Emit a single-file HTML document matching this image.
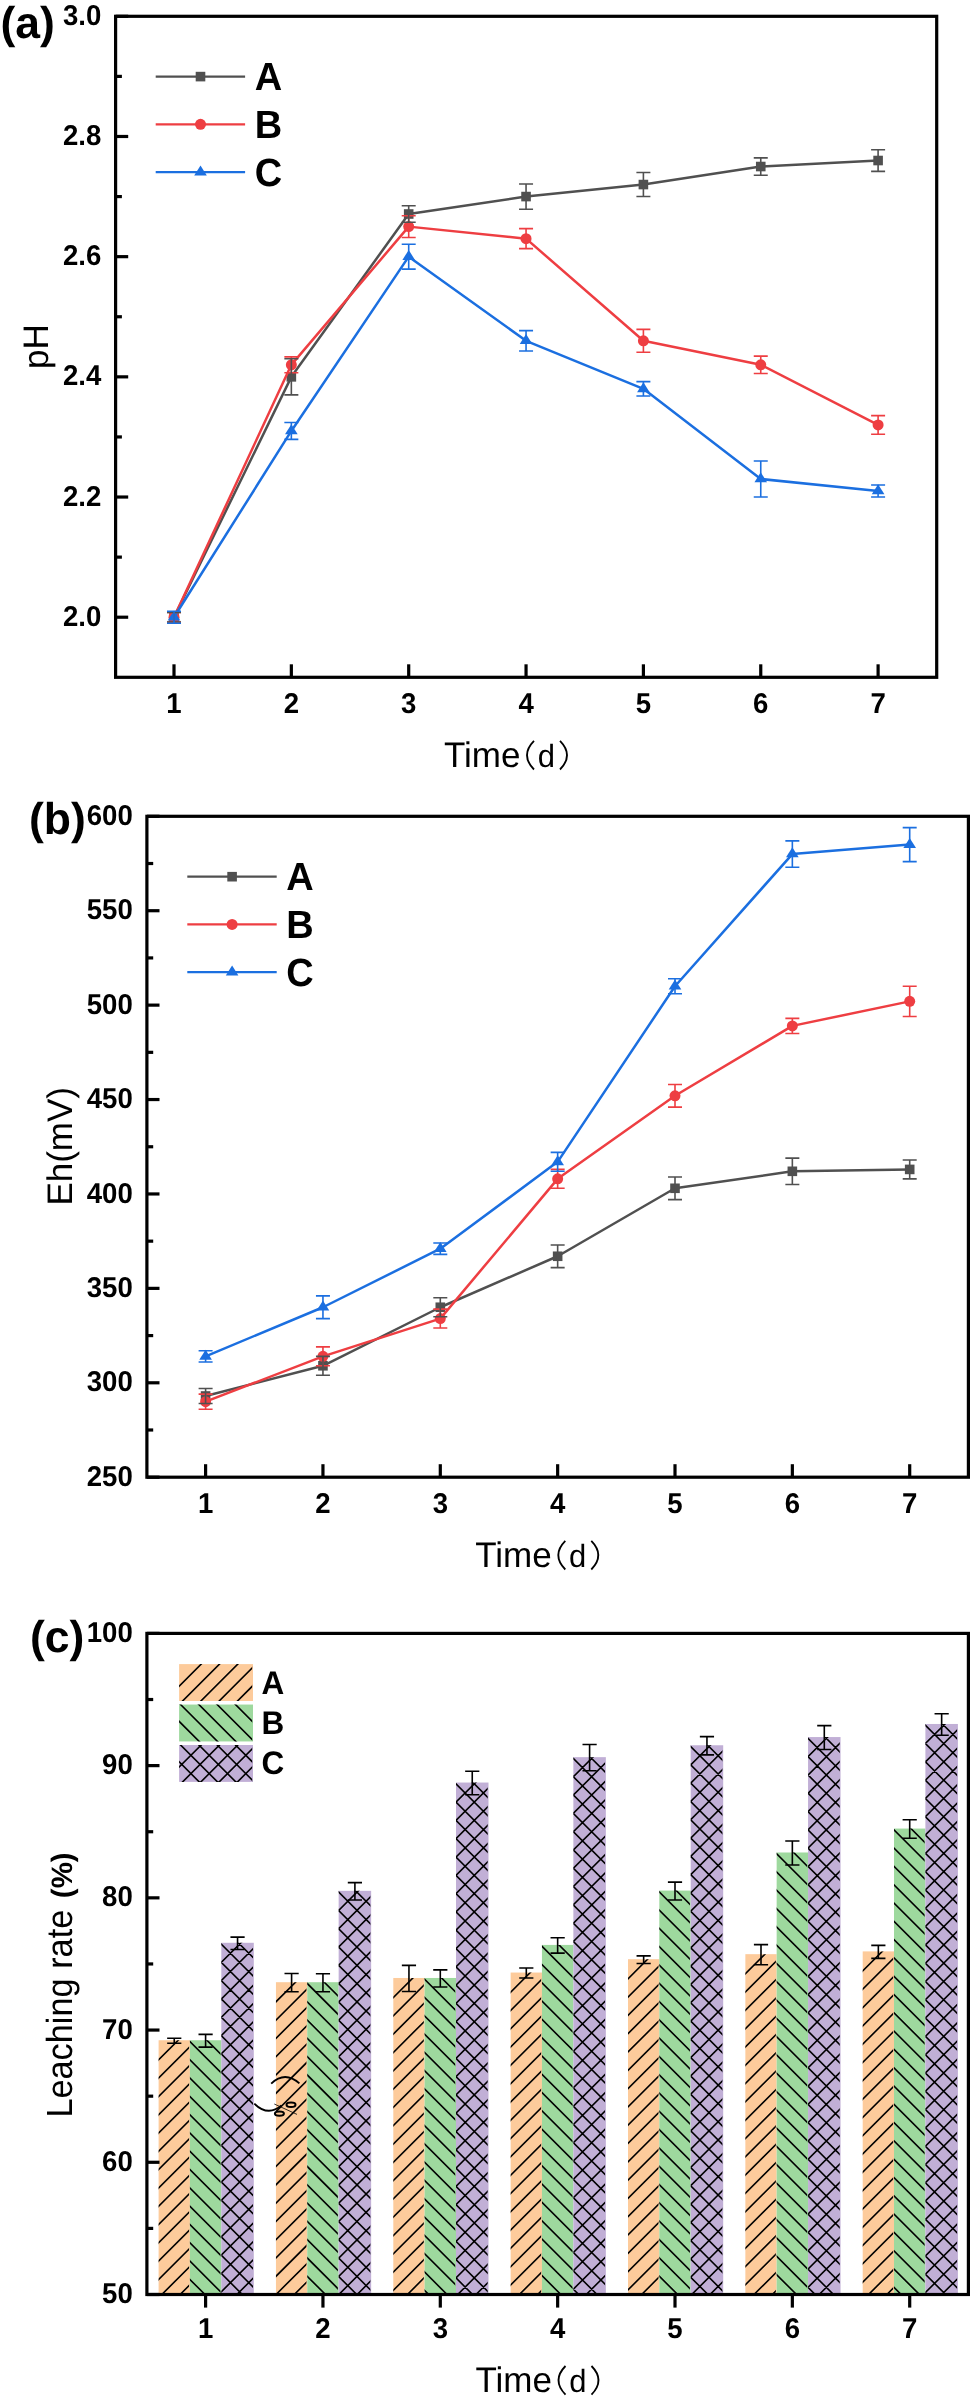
<!DOCTYPE html>
<html><head><meta charset="utf-8"><title>Figure</title>
<style>
html,body{margin:0;padding:0;background:#fff;}
svg{display:block;font-family:"Liberation Sans",sans-serif;will-change:transform;text-rendering:geometricPrecision;}
text{fill:#000;}
</style></head>
<body>
<svg width="971" height="2404" viewBox="0 0 971 2404">
<rect width="971" height="2404" fill="#fff"/>
<polyline points="174,617.21 291.35,376.85 408.7,214 526.05,196.57 643.4,184.55 760.75,166.53 878.1,160.52" fill="none" stroke="#505050" stroke-width="2.5" stroke-linejoin="round"/>
<rect x="169.2" y="612.41" width="9.6" height="9.6" fill="#505050"/>
<rect x="286.55" y="372.05" width="9.6" height="9.6" fill="#505050"/>
<rect x="403.9" y="209.2" width="9.6" height="9.6" fill="#505050"/>
<rect x="521.25" y="191.77" width="9.6" height="9.6" fill="#505050"/>
<rect x="638.6" y="179.75" width="9.6" height="9.6" fill="#505050"/>
<rect x="755.95" y="161.73" width="9.6" height="9.6" fill="#505050"/>
<rect x="873.3" y="155.72" width="9.6" height="9.6" fill="#505050"/>
<polyline points="174,617.21 291.35,364.83 408.7,226.62 526.05,238.64 643.4,340.79 760.75,364.83 878.1,424.92" fill="none" stroke="#EE3E42" stroke-width="2.5" stroke-linejoin="round"/>
<circle cx="174" cy="617.21" r="5.5" fill="#EE3E42"/>
<circle cx="291.35" cy="364.83" r="5.5" fill="#EE3E42"/>
<circle cx="408.7" cy="226.62" r="5.5" fill="#EE3E42"/>
<circle cx="526.05" cy="238.64" r="5.5" fill="#EE3E42"/>
<circle cx="643.4" cy="340.79" r="5.5" fill="#EE3E42"/>
<circle cx="760.75" cy="364.83" r="5.5" fill="#EE3E42"/>
<circle cx="878.1" cy="424.92" r="5.5" fill="#EE3E42"/>
<polyline points="174,617.21 291.35,430.93 408.7,256.66 526.05,340.79 643.4,388.86 760.75,479 878.1,491.02" fill="none" stroke="#1B6FE0" stroke-width="2.5" stroke-linejoin="round"/>
<path d="M174 610.51L180.3 620.51L167.7 620.51Z" fill="#1B6FE0"/>
<path d="M291.35 424.23L297.65 434.23L285.05 434.23Z" fill="#1B6FE0"/>
<path d="M408.7 249.96L415 259.96L402.4 259.96Z" fill="#1B6FE0"/>
<path d="M526.05 334.09L532.35 344.09L519.75 344.09Z" fill="#1B6FE0"/>
<path d="M643.4 382.16L649.7 392.16L637.1 392.16Z" fill="#1B6FE0"/>
<path d="M760.75 472.3L767.05 482.3L754.45 482.3Z" fill="#1B6FE0"/>
<path d="M878.1 484.32L884.4 494.32L871.8 494.32Z" fill="#1B6FE0"/>
<path d="M174 612.4V622.02M167 612.4H181M167 622.02H181" stroke="#EE3E42" stroke-width="1.6" fill="none"/>
<path d="M291.35 356.84V372.82M284.35 356.84H298.35M284.35 372.82H298.35" stroke="#EE3E42" stroke-width="1.6" fill="none"/>
<path d="M408.7 215.8V237.43M401.7 215.8H415.7M401.7 237.43H415.7" stroke="#EE3E42" stroke-width="1.6" fill="none"/>
<path d="M526.05 228.66V248.61M519.05 228.66H533.05M519.05 248.61H533.05" stroke="#EE3E42" stroke-width="1.6" fill="none"/>
<path d="M643.4 329.37V352.21M636.4 329.37H650.4M636.4 352.21H650.4" stroke="#EE3E42" stroke-width="1.6" fill="none"/>
<path d="M760.75 356.11V373.54M753.75 356.11H767.75M753.75 373.54H767.75" stroke="#EE3E42" stroke-width="1.6" fill="none"/>
<path d="M878.1 415.6V434.23M871.1 415.6H885.1M871.1 434.23H885.1" stroke="#EE3E42" stroke-width="1.6" fill="none"/>
<path d="M174 612.4V622.02M167 612.4H181M167 622.02H181" stroke="#505050" stroke-width="1.6" fill="none"/>
<path d="M291.35 358.82V394.87M284.35 358.82H298.35M284.35 394.87H298.35" stroke="#505050" stroke-width="1.6" fill="none"/>
<path d="M408.7 205.77V222.23M401.7 205.77H415.7M401.7 222.23H415.7" stroke="#505050" stroke-width="1.6" fill="none"/>
<path d="M526.05 183.95V209.19M519.05 183.95H533.05M519.05 209.19H533.05" stroke="#505050" stroke-width="1.6" fill="none"/>
<path d="M643.4 172.54V196.57M636.4 172.54H650.4M636.4 196.57H650.4" stroke="#505050" stroke-width="1.6" fill="none"/>
<path d="M760.75 157.87V175.18M753.75 157.87H767.75M753.75 175.18H767.75" stroke="#505050" stroke-width="1.6" fill="none"/>
<path d="M878.1 149.7V171.33M871.1 149.7H885.1M871.1 171.33H885.1" stroke="#505050" stroke-width="1.6" fill="none"/>
<path d="M174 611.2V623.22M167 611.2H181M167 623.22H181" stroke="#1B6FE0" stroke-width="1.6" fill="none"/>
<path d="M291.35 422.51V439.34M284.35 422.51H298.35M284.35 439.34H298.35" stroke="#1B6FE0" stroke-width="1.6" fill="none"/>
<path d="M408.7 244.22V269.1M401.7 244.22H415.7M401.7 269.1H415.7" stroke="#1B6FE0" stroke-width="1.6" fill="none"/>
<path d="M526.05 330.58V351.01M519.05 330.58H533.05M519.05 351.01H533.05" stroke="#1B6FE0" stroke-width="1.6" fill="none"/>
<path d="M643.4 381.65V396.07M636.4 381.65H650.4M636.4 396.07H650.4" stroke="#1B6FE0" stroke-width="1.6" fill="none"/>
<path d="M760.75 460.97V497.03M753.75 460.97H767.75M753.75 497.03H767.75" stroke="#1B6FE0" stroke-width="1.6" fill="none"/>
<path d="M878.1 485.01V497.03M871.1 485.01H885.1M871.1 497.03H885.1" stroke="#1B6FE0" stroke-width="1.6" fill="none"/>
<rect x="115.6" y="16.3" width="821.1" height="661" fill="none" stroke="#000" stroke-width="3.2"/>
<line x1="115.6" y1="617.21" x2="128.2" y2="617.21" stroke="#000" stroke-width="3.2" />
<text transform="translate(101.3 625.81) scale(1 1.037)" font-size="27.6" font-weight="bold" text-anchor="end" >2.0</text>
<line x1="115.6" y1="497.03" x2="128.2" y2="497.03" stroke="#000" stroke-width="3.2" />
<text transform="translate(101.3 505.63) scale(1 1.037)" font-size="27.6" font-weight="bold" text-anchor="end" >2.2</text>
<line x1="115.6" y1="376.85" x2="128.2" y2="376.85" stroke="#000" stroke-width="3.2" />
<text transform="translate(101.3 385.45) scale(1 1.037)" font-size="27.6" font-weight="bold" text-anchor="end" >2.4</text>
<line x1="115.6" y1="256.66" x2="128.2" y2="256.66" stroke="#000" stroke-width="3.2" />
<text transform="translate(101.3 265.26) scale(1 1.037)" font-size="27.6" font-weight="bold" text-anchor="end" >2.6</text>
<line x1="115.6" y1="136.48" x2="128.2" y2="136.48" stroke="#000" stroke-width="3.2" />
<text transform="translate(101.3 145.08) scale(1 1.037)" font-size="27.6" font-weight="bold" text-anchor="end" >2.8</text>
<line x1="115.6" y1="16.3" x2="128.2" y2="16.3" stroke="#000" stroke-width="3.2" />
<text transform="translate(101.3 24.9) scale(1 1.037)" font-size="27.6" font-weight="bold" text-anchor="end" >3.0</text>
<line x1="115.6" y1="557.12" x2="121.9" y2="557.12" stroke="#000" stroke-width="3.2" />
<line x1="115.6" y1="436.94" x2="121.9" y2="436.94" stroke="#000" stroke-width="3.2" />
<line x1="115.6" y1="316.75" x2="121.9" y2="316.75" stroke="#000" stroke-width="3.2" />
<line x1="115.6" y1="196.57" x2="121.9" y2="196.57" stroke="#000" stroke-width="3.2" />
<line x1="115.6" y1="76.39" x2="121.9" y2="76.39" stroke="#000" stroke-width="3.2" />
<line x1="174" y1="677.3" x2="174" y2="664.3" stroke="#000" stroke-width="3.2" />
<text transform="translate(174 712.7) scale(1 1.037)" font-size="27.6" font-weight="bold" text-anchor="middle" >1</text>
<line x1="291.35" y1="677.3" x2="291.35" y2="664.3" stroke="#000" stroke-width="3.2" />
<text transform="translate(291.35 712.7) scale(1 1.037)" font-size="27.6" font-weight="bold" text-anchor="middle" >2</text>
<line x1="408.7" y1="677.3" x2="408.7" y2="664.3" stroke="#000" stroke-width="3.2" />
<text transform="translate(408.7 712.7) scale(1 1.037)" font-size="27.6" font-weight="bold" text-anchor="middle" >3</text>
<line x1="526.05" y1="677.3" x2="526.05" y2="664.3" stroke="#000" stroke-width="3.2" />
<text transform="translate(526.05 712.7) scale(1 1.037)" font-size="27.6" font-weight="bold" text-anchor="middle" >4</text>
<line x1="643.4" y1="677.3" x2="643.4" y2="664.3" stroke="#000" stroke-width="3.2" />
<text transform="translate(643.4 712.7) scale(1 1.037)" font-size="27.6" font-weight="bold" text-anchor="middle" >5</text>
<line x1="760.75" y1="677.3" x2="760.75" y2="664.3" stroke="#000" stroke-width="3.2" />
<text transform="translate(760.75 712.7) scale(1 1.037)" font-size="27.6" font-weight="bold" text-anchor="middle" >6</text>
<line x1="878.1" y1="677.3" x2="878.1" y2="664.3" stroke="#000" stroke-width="3.2" />
<text transform="translate(878.1 712.7) scale(1 1.037)" font-size="27.6" font-weight="bold" text-anchor="middle" >7</text>
<text transform="translate(443.9 767.2) scale(1 1.015)" font-size="35" font-weight="normal" text-anchor="start" >Time</text>
<path d="M534 740.9Q520 755.2 534 769.5" stroke="#000" stroke-width="1.8" fill="none"/>
<path d="M560 740.9Q574 755.2 560 769.5" stroke="#000" stroke-width="1.8" fill="none"/>
<text transform="translate(537.8 767) scale(1 1.037)" font-size="31" font-weight="normal" text-anchor="start" >d</text>
<text transform="translate(47.9 346.5) rotate(-90) scale(1 1.015)" font-size="35" text-anchor="middle">pH</text>
<text transform="translate(0.5 38.2) scale(1 1.0)" font-size="44.5" font-weight="bold" text-anchor="start" >(a)</text>
<line x1="155.7" y1="76.6" x2="245.1" y2="76.6" stroke="#505050" stroke-width="2.3" />
<rect x="195.7" y="71.8" width="9.6" height="9.6" fill="#505050"/>
<text transform="translate(254.7 90.2) scale(1 1.037)" font-size="38" font-weight="bold" text-anchor="start" >A</text>
<line x1="155.7" y1="124.35" x2="245.1" y2="124.35" stroke="#EE3E42" stroke-width="2.3" />
<circle cx="200.5" cy="124.35" r="5.5" fill="#EE3E42"/>
<text transform="translate(254.7 137.95) scale(1 1.037)" font-size="38" font-weight="bold" text-anchor="start" >B</text>
<line x1="155.7" y1="172.1" x2="245.1" y2="172.1" stroke="#1B6FE0" stroke-width="2.3" />
<path d="M200.5 165.4L206.8 175.4L194.2 175.4Z" fill="#1B6FE0"/>
<text transform="translate(254.7 185.7) scale(1 1.037)" font-size="38" font-weight="bold" text-anchor="start" >C</text>
<polyline points="205.6,1396 322.95,1365.79 440.3,1307.25 557.65,1256.27 675,1188.29 792.35,1171.3 909.7,1169.41" fill="none" stroke="#505050" stroke-width="2.5" stroke-linejoin="round"/>
<rect x="200.8" y="1391.2" width="9.6" height="9.6" fill="#505050"/>
<rect x="318.15" y="1360.99" width="9.6" height="9.6" fill="#505050"/>
<rect x="435.5" y="1302.45" width="9.6" height="9.6" fill="#505050"/>
<rect x="552.85" y="1251.47" width="9.6" height="9.6" fill="#505050"/>
<rect x="670.2" y="1183.49" width="9.6" height="9.6" fill="#505050"/>
<rect x="787.55" y="1166.5" width="9.6" height="9.6" fill="#505050"/>
<rect x="904.9" y="1164.61" width="9.6" height="9.6" fill="#505050"/>
<polyline points="205.6,1401.67 322.95,1356.35 440.3,1318.58 557.65,1178.85 675,1095.77 792.35,1025.9 909.7,1001.35" fill="none" stroke="#EE3E42" stroke-width="2.5" stroke-linejoin="round"/>
<circle cx="205.6" cy="1401.67" r="5.5" fill="#EE3E42"/>
<circle cx="322.95" cy="1356.35" r="5.5" fill="#EE3E42"/>
<circle cx="440.3" cy="1318.58" r="5.5" fill="#EE3E42"/>
<circle cx="557.65" cy="1178.85" r="5.5" fill="#EE3E42"/>
<circle cx="675" cy="1095.77" r="5.5" fill="#EE3E42"/>
<circle cx="792.35" cy="1025.9" r="5.5" fill="#EE3E42"/>
<circle cx="909.7" cy="1001.35" r="5.5" fill="#EE3E42"/>
<polyline points="205.6,1356.35 322.95,1307.25 440.3,1248.72 557.65,1161.86 675,986.25 792.35,854.07 909.7,844.62" fill="none" stroke="#1B6FE0" stroke-width="2.5" stroke-linejoin="round"/>
<path d="M205.6 1349.65L211.9 1359.65L199.3 1359.65Z" fill="#1B6FE0"/>
<path d="M322.95 1300.55L329.25 1310.55L316.65 1310.55Z" fill="#1B6FE0"/>
<path d="M440.3 1242.02L446.6 1252.02L434 1252.02Z" fill="#1B6FE0"/>
<path d="M557.65 1155.16L563.95 1165.16L551.35 1165.16Z" fill="#1B6FE0"/>
<path d="M675 979.55L681.3 989.55L668.7 989.55Z" fill="#1B6FE0"/>
<path d="M792.35 847.37L798.65 857.37L786.05 857.37Z" fill="#1B6FE0"/>
<path d="M909.7 837.92L916 847.92L903.4 847.92Z" fill="#1B6FE0"/>
<path d="M205.6 1394.12V1409.22M198.6 1394.12H212.6M198.6 1409.22H212.6" stroke="#EE3E42" stroke-width="1.6" fill="none"/>
<path d="M322.95 1346.91V1365.79M315.95 1346.91H329.95M315.95 1365.79H329.95" stroke="#EE3E42" stroke-width="1.6" fill="none"/>
<path d="M440.3 1309.14V1328.03M433.3 1309.14H447.3M433.3 1328.03H447.3" stroke="#EE3E42" stroke-width="1.6" fill="none"/>
<path d="M557.65 1169.41V1188.29M550.65 1169.41H564.65M550.65 1188.29H564.65" stroke="#EE3E42" stroke-width="1.6" fill="none"/>
<path d="M675 1084.44V1107.1M668 1084.44H682M668 1107.1H682" stroke="#EE3E42" stroke-width="1.6" fill="none"/>
<path d="M792.35 1018.35V1033.45M785.35 1018.35H799.35M785.35 1033.45H799.35" stroke="#EE3E42" stroke-width="1.6" fill="none"/>
<path d="M909.7 986.25V1016.46M902.7 986.25H916.7M902.7 1016.46H916.7" stroke="#EE3E42" stroke-width="1.6" fill="none"/>
<path d="M205.6 1388.45V1403.56M198.6 1388.45H212.6M198.6 1403.56H212.6" stroke="#505050" stroke-width="1.6" fill="none"/>
<path d="M322.95 1356.35V1375.23M315.95 1356.35H329.95M315.95 1375.23H329.95" stroke="#505050" stroke-width="1.6" fill="none"/>
<path d="M440.3 1297.81V1316.7M433.3 1297.81H447.3M433.3 1316.7H447.3" stroke="#505050" stroke-width="1.6" fill="none"/>
<path d="M557.65 1244.94V1267.6M550.65 1244.94H564.65M550.65 1267.6H564.65" stroke="#505050" stroke-width="1.6" fill="none"/>
<path d="M675 1176.96V1199.62M668 1176.96H682M668 1199.62H682" stroke="#505050" stroke-width="1.6" fill="none"/>
<path d="M792.35 1158.08V1184.52M785.35 1158.08H799.35M785.35 1184.52H799.35" stroke="#505050" stroke-width="1.6" fill="none"/>
<path d="M909.7 1159.97V1178.85M902.7 1159.97H916.7M902.7 1178.85H916.7" stroke="#505050" stroke-width="1.6" fill="none"/>
<path d="M205.6 1350.68V1362.01M198.6 1350.68H212.6M198.6 1362.01H212.6" stroke="#1B6FE0" stroke-width="1.6" fill="none"/>
<path d="M322.95 1295.92V1318.58M315.95 1295.92H329.95M315.95 1318.58H329.95" stroke="#1B6FE0" stroke-width="1.6" fill="none"/>
<path d="M440.3 1243.05V1254.38M433.3 1243.05H447.3M433.3 1254.38H447.3" stroke="#1B6FE0" stroke-width="1.6" fill="none"/>
<path d="M557.65 1152.41V1171.3M550.65 1152.41H564.65M550.65 1171.3H564.65" stroke="#1B6FE0" stroke-width="1.6" fill="none"/>
<path d="M675 978.69V993.8M668 978.69H682M668 993.8H682" stroke="#1B6FE0" stroke-width="1.6" fill="none"/>
<path d="M792.35 840.85V867.28M785.35 840.85H799.35M785.35 867.28H799.35" stroke="#1B6FE0" stroke-width="1.6" fill="none"/>
<path d="M909.7 827.63V861.62M902.7 827.63H916.7M902.7 861.62H916.7" stroke="#1B6FE0" stroke-width="1.6" fill="none"/>
<rect x="146.9" y="816.3" width="821.5" height="660.9" fill="none" stroke="#000" stroke-width="3.2"/>
<line x1="146.9" y1="1477.2" x2="159.5" y2="1477.2" stroke="#000" stroke-width="3.2" />
<text transform="translate(132.8 1485.8) scale(1 1.037)" font-size="27.6" font-weight="bold" text-anchor="end" >250</text>
<line x1="146.9" y1="1382.79" x2="159.5" y2="1382.79" stroke="#000" stroke-width="3.2" />
<text transform="translate(132.8 1391.39) scale(1 1.037)" font-size="27.6" font-weight="bold" text-anchor="end" >300</text>
<line x1="146.9" y1="1288.37" x2="159.5" y2="1288.37" stroke="#000" stroke-width="3.2" />
<text transform="translate(132.8 1296.97) scale(1 1.037)" font-size="27.6" font-weight="bold" text-anchor="end" >350</text>
<line x1="146.9" y1="1193.96" x2="159.5" y2="1193.96" stroke="#000" stroke-width="3.2" />
<text transform="translate(132.8 1202.56) scale(1 1.037)" font-size="27.6" font-weight="bold" text-anchor="end" >400</text>
<line x1="146.9" y1="1099.54" x2="159.5" y2="1099.54" stroke="#000" stroke-width="3.2" />
<text transform="translate(132.8 1108.14) scale(1 1.037)" font-size="27.6" font-weight="bold" text-anchor="end" >450</text>
<line x1="146.9" y1="1005.13" x2="159.5" y2="1005.13" stroke="#000" stroke-width="3.2" />
<text transform="translate(132.8 1013.73) scale(1 1.037)" font-size="27.6" font-weight="bold" text-anchor="end" >500</text>
<line x1="146.9" y1="910.71" x2="159.5" y2="910.71" stroke="#000" stroke-width="3.2" />
<text transform="translate(132.8 919.31) scale(1 1.037)" font-size="27.6" font-weight="bold" text-anchor="end" >550</text>
<line x1="146.9" y1="816.3" x2="159.5" y2="816.3" stroke="#000" stroke-width="3.2" />
<text transform="translate(132.8 824.9) scale(1 1.037)" font-size="27.6" font-weight="bold" text-anchor="end" >600</text>
<line x1="146.9" y1="1429.99" x2="153.2" y2="1429.99" stroke="#000" stroke-width="3.2" />
<line x1="146.9" y1="1335.58" x2="153.2" y2="1335.58" stroke="#000" stroke-width="3.2" />
<line x1="146.9" y1="1241.16" x2="153.2" y2="1241.16" stroke="#000" stroke-width="3.2" />
<line x1="146.9" y1="1146.75" x2="153.2" y2="1146.75" stroke="#000" stroke-width="3.2" />
<line x1="146.9" y1="1052.34" x2="153.2" y2="1052.34" stroke="#000" stroke-width="3.2" />
<line x1="146.9" y1="957.92" x2="153.2" y2="957.92" stroke="#000" stroke-width="3.2" />
<line x1="146.9" y1="863.51" x2="153.2" y2="863.51" stroke="#000" stroke-width="3.2" />
<line x1="205.6" y1="1477.2" x2="205.6" y2="1464.2" stroke="#000" stroke-width="3.2" />
<text transform="translate(205.6 1512.7) scale(1 1.037)" font-size="27.6" font-weight="bold" text-anchor="middle" >1</text>
<line x1="322.95" y1="1477.2" x2="322.95" y2="1464.2" stroke="#000" stroke-width="3.2" />
<text transform="translate(322.95 1512.7) scale(1 1.037)" font-size="27.6" font-weight="bold" text-anchor="middle" >2</text>
<line x1="440.3" y1="1477.2" x2="440.3" y2="1464.2" stroke="#000" stroke-width="3.2" />
<text transform="translate(440.3 1512.7) scale(1 1.037)" font-size="27.6" font-weight="bold" text-anchor="middle" >3</text>
<line x1="557.65" y1="1477.2" x2="557.65" y2="1464.2" stroke="#000" stroke-width="3.2" />
<text transform="translate(557.65 1512.7) scale(1 1.037)" font-size="27.6" font-weight="bold" text-anchor="middle" >4</text>
<line x1="675" y1="1477.2" x2="675" y2="1464.2" stroke="#000" stroke-width="3.2" />
<text transform="translate(675 1512.7) scale(1 1.037)" font-size="27.6" font-weight="bold" text-anchor="middle" >5</text>
<line x1="792.35" y1="1477.2" x2="792.35" y2="1464.2" stroke="#000" stroke-width="3.2" />
<text transform="translate(792.35 1512.7) scale(1 1.037)" font-size="27.6" font-weight="bold" text-anchor="middle" >6</text>
<line x1="909.7" y1="1477.2" x2="909.7" y2="1464.2" stroke="#000" stroke-width="3.2" />
<text transform="translate(909.7 1512.7) scale(1 1.037)" font-size="27.6" font-weight="bold" text-anchor="middle" >7</text>
<text transform="translate(475.2 1567.2) scale(1 1.015)" font-size="35" font-weight="normal" text-anchor="start" >Time</text>
<path d="M565.3 1540.9Q551.3 1555.2 565.3 1569.5" stroke="#000" stroke-width="1.8" fill="none"/>
<path d="M591.3 1540.9Q605.3 1555.2 591.3 1569.5" stroke="#000" stroke-width="1.8" fill="none"/>
<text transform="translate(569.1 1567) scale(1 1.037)" font-size="31" font-weight="normal" text-anchor="start" >d</text>
<text transform="translate(71.9 1146.3) rotate(-90) scale(1 1.015)" font-size="35" text-anchor="middle">Eh(mV)</text>
<text transform="translate(29 834) scale(1 1.0)" font-size="44.5" font-weight="bold" text-anchor="start" >(b)</text>
<line x1="187.3" y1="876.7" x2="276.7" y2="876.7" stroke="#505050" stroke-width="2.3" />
<rect x="227.3" y="871.9" width="9.6" height="9.6" fill="#505050"/>
<text transform="translate(286.3 890.3) scale(1 1.037)" font-size="38" font-weight="bold" text-anchor="start" >A</text>
<line x1="187.3" y1="924.45" x2="276.7" y2="924.45" stroke="#EE3E42" stroke-width="2.3" />
<circle cx="232.1" cy="924.45" r="5.5" fill="#EE3E42"/>
<text transform="translate(286.3 938.05) scale(1 1.037)" font-size="38" font-weight="bold" text-anchor="start" >B</text>
<line x1="187.3" y1="972.2" x2="276.7" y2="972.2" stroke="#1B6FE0" stroke-width="2.3" />
<path d="M232.1 965.5L238.4 975.5L225.8 975.5Z" fill="#1B6FE0"/>
<text transform="translate(286.3 985.8) scale(1 1.037)" font-size="38" font-weight="bold" text-anchor="start" >C</text>
<clipPath id="c1"><rect x="158.6" y="2040.24" width="30.5" height="254.26"/></clipPath>
<rect x="158.6" y="2040.24" width="31.3" height="254.26" fill="#FDCB9B"/>
<path d="M156.6 2061.84L180.2 2038.24M156.6 2080.14L198.5 2038.24M156.6 2098.44L216.8 2038.24M156.6 2116.74L235.1 2038.24M156.6 2135.04L253.4 2038.24M156.6 2153.34L271.7 2038.24M156.6 2171.64L290 2038.24M156.6 2189.94L308.3 2038.24M156.6 2208.24L326.6 2038.24M156.6 2226.54L344.9 2038.24M156.6 2244.84L363.2 2038.24M156.6 2263.14L381.5 2038.24M156.6 2281.44L399.8 2038.24M156.6 2299.74L418.1 2038.24M156.6 2318.04L436.4 2038.24" stroke="#000" stroke-width="1.6" fill="none" clip-path="url(#c1)"/>
<clipPath id="c2"><rect x="189.9" y="2040.24" width="30.6" height="254.26"/></clipPath>
<rect x="189.9" y="2040.24" width="31.4" height="254.26" fill="#9ED99E"/>
<path d="M-51.3 2038.24L206.96 2296.5M-33 2038.24L225.26 2296.5M-14.7 2038.24L243.56 2296.5M3.6 2038.24L261.86 2296.5M21.9 2038.24L280.16 2296.5M40.2 2038.24L298.46 2296.5M58.5 2038.24L316.76 2296.5M76.8 2038.24L335.06 2296.5M95.1 2038.24L353.36 2296.5M113.4 2038.24L371.66 2296.5M131.7 2038.24L389.96 2296.5M150 2038.24L408.26 2296.5M168.3 2038.24L426.56 2296.5M186.6 2038.24L444.86 2296.5M204.9 2038.24L463.16 2296.5" stroke="#000" stroke-width="1.6" fill="none" clip-path="url(#c2)"/>
<clipPath id="c3"><rect x="221.3" y="1942.79" width="31.7" height="351.71"/></clipPath>
<rect x="221.3" y="1942.79" width="32.5" height="351.71" fill="#C1AFD6"/>
<path d="M219.3 1964.39L242.9 1940.79M219.3 1982.69L261.2 1940.79M219.3 2000.99L279.5 1940.79M219.3 2019.29L297.8 1940.79M219.3 2037.59L316.1 1940.79M219.3 2055.89L334.4 1940.79M219.3 2074.19L352.7 1940.79M219.3 2092.49L371 1940.79M219.3 2110.79L389.3 1940.79M219.3 2129.09L407.6 1940.79M219.3 2147.39L425.9 1940.79M219.3 2165.69L444.2 1940.79M219.3 2183.99L462.5 1940.79M219.3 2202.29L480.8 1940.79M219.3 2220.59L499.1 1940.79M219.3 2238.89L517.4 1940.79M219.3 2257.19L535.7 1940.79M219.3 2275.49L554 1940.79M219.3 2293.79L572.3 1940.79M219.3 2312.09L590.6 1940.79M-111.4 1940.79L244.31 2296.5M-93.1 1940.79L262.61 2296.5M-74.8 1940.79L280.91 2296.5M-56.5 1940.79L299.21 2296.5M-38.2 1940.79L317.51 2296.5M-19.9 1940.79L335.81 2296.5M-1.6 1940.79L354.11 2296.5M16.7 1940.79L372.41 2296.5M35 1940.79L390.71 2296.5M53.3 1940.79L409.01 2296.5M71.6 1940.79L427.31 2296.5M89.9 1940.79L445.61 2296.5M108.2 1940.79L463.91 2296.5M126.5 1940.79L482.21 2296.5M144.8 1940.79L500.51 2296.5M163.1 1940.79L518.81 2296.5M181.4 1940.79L537.11 2296.5M199.7 1940.79L555.41 2296.5M218 1940.79L573.71 2296.5M236.3 1940.79L592.01 2296.5" stroke="#000" stroke-width="1.6" fill="none" clip-path="url(#c3)"/>
<clipPath id="c4"><rect x="275.95" y="1982.2" width="30.5" height="312.3"/></clipPath>
<rect x="275.95" y="1982.2" width="31.3" height="312.3" fill="#FDCB9B"/>
<path d="M273.95 2003.8L297.55 1980.2M273.95 2022.1L315.85 1980.2M273.95 2040.4L334.15 1980.2M273.95 2058.7L352.45 1980.2M273.95 2077L370.75 1980.2M273.95 2095.3L389.05 1980.2M273.95 2113.6L407.35 1980.2M273.95 2131.9L425.65 1980.2M273.95 2150.2L443.95 1980.2M273.95 2168.5L462.25 1980.2M273.95 2186.8L480.55 1980.2M273.95 2205.1L498.85 1980.2M273.95 2223.4L517.15 1980.2M273.95 2241.7L535.45 1980.2M273.95 2260L553.75 1980.2M273.95 2278.3L572.05 1980.2M273.95 2296.6L590.35 1980.2M273.95 2314.9L608.65 1980.2" stroke="#000" stroke-width="1.6" fill="none" clip-path="url(#c4)"/>
<clipPath id="c5"><rect x="307.25" y="1982.2" width="30.6" height="312.3"/></clipPath>
<rect x="307.25" y="1982.2" width="31.4" height="312.3" fill="#9ED99E"/>
<path d="M11.15 1980.2L327.45 2296.5M29.45 1980.2L345.75 2296.5M47.75 1980.2L364.05 2296.5M66.05 1980.2L382.35 2296.5M84.35 1980.2L400.65 2296.5M102.65 1980.2L418.95 2296.5M120.95 1980.2L437.25 2296.5M139.25 1980.2L455.55 2296.5M157.55 1980.2L473.85 2296.5M175.85 1980.2L492.15 2296.5M194.15 1980.2L510.45 2296.5M212.45 1980.2L528.75 2296.5M230.75 1980.2L547.05 2296.5M249.05 1980.2L565.35 2296.5M267.35 1980.2L583.65 2296.5M285.65 1980.2L601.95 2296.5M303.95 1980.2L620.25 2296.5M322.25 1980.2L638.55 2296.5" stroke="#000" stroke-width="1.6" fill="none" clip-path="url(#c5)"/>
<clipPath id="c6"><rect x="338.65" y="1890.83" width="31.7" height="403.67"/></clipPath>
<rect x="338.65" y="1890.83" width="32.5" height="403.67" fill="#C1AFD6"/>
<path d="M336.65 1912.43L360.25 1888.83M336.65 1930.73L378.55 1888.83M336.65 1949.03L396.85 1888.83M336.65 1967.33L415.15 1888.83M336.65 1985.63L433.45 1888.83M336.65 2003.93L451.75 1888.83M336.65 2022.23L470.05 1888.83M336.65 2040.53L488.35 1888.83M336.65 2058.83L506.65 1888.83M336.65 2077.13L524.95 1888.83M336.65 2095.43L543.25 1888.83M336.65 2113.73L561.55 1888.83M336.65 2132.03L579.85 1888.83M336.65 2150.33L598.15 1888.83M336.65 2168.63L616.45 1888.83M336.65 2186.93L634.75 1888.83M336.65 2205.23L653.05 1888.83M336.65 2223.53L671.35 1888.83M336.65 2241.83L689.65 1888.83M336.65 2260.13L707.95 1888.83M336.65 2278.43L726.25 1888.83M336.65 2296.73L744.55 1888.83M336.65 2315.03L762.85 1888.83M-48.95 1888.83L358.72 2296.5M-30.65 1888.83L377.02 2296.5M-12.35 1888.83L395.32 2296.5M5.95 1888.83L413.62 2296.5M24.25 1888.83L431.92 2296.5M42.55 1888.83L450.22 2296.5M60.85 1888.83L468.52 2296.5M79.15 1888.83L486.82 2296.5M97.45 1888.83L505.12 2296.5M115.75 1888.83L523.42 2296.5M134.05 1888.83L541.72 2296.5M152.35 1888.83L560.02 2296.5M170.65 1888.83L578.32 2296.5M188.95 1888.83L596.62 2296.5M207.25 1888.83L614.92 2296.5M225.55 1888.83L633.22 2296.5M243.85 1888.83L651.52 2296.5M262.15 1888.83L669.82 2296.5M280.45 1888.83L688.12 2296.5M298.75 1888.83L706.42 2296.5M317.05 1888.83L724.72 2296.5M335.35 1888.83L743.02 2296.5M353.65 1888.83L761.32 2296.5" stroke="#000" stroke-width="1.6" fill="none" clip-path="url(#c6)"/>
<clipPath id="c7"><rect x="393.3" y="1977.97" width="30.5" height="316.53"/></clipPath>
<rect x="393.3" y="1977.97" width="31.3" height="316.53" fill="#FDCB9B"/>
<path d="M391.3 1999.57L414.9 1975.97M391.3 2017.87L433.2 1975.97M391.3 2036.17L451.5 1975.97M391.3 2054.47L469.8 1975.97M391.3 2072.77L488.1 1975.97M391.3 2091.07L506.4 1975.97M391.3 2109.37L524.7 1975.97M391.3 2127.67L543 1975.97M391.3 2145.97L561.3 1975.97M391.3 2164.27L579.6 1975.97M391.3 2182.57L597.9 1975.97M391.3 2200.87L616.2 1975.97M391.3 2219.17L634.5 1975.97M391.3 2237.47L652.8 1975.97M391.3 2255.77L671.1 1975.97M391.3 2274.07L689.4 1975.97M391.3 2292.37L707.7 1975.97M391.3 2310.67L726 1975.97" stroke="#000" stroke-width="1.6" fill="none" clip-path="url(#c7)"/>
<clipPath id="c8"><rect x="424.6" y="1977.97" width="30.6" height="316.53"/></clipPath>
<rect x="424.6" y="1977.97" width="31.4" height="316.53" fill="#9ED99E"/>
<path d="M110.2 1975.97L430.73 2296.5M128.5 1975.97L449.03 2296.5M146.8 1975.97L467.33 2296.5M165.1 1975.97L485.63 2296.5M183.4 1975.97L503.93 2296.5M201.7 1975.97L522.23 2296.5M220 1975.97L540.53 2296.5M238.3 1975.97L558.83 2296.5M256.6 1975.97L577.13 2296.5M274.9 1975.97L595.43 2296.5M293.2 1975.97L613.73 2296.5M311.5 1975.97L632.03 2296.5M329.8 1975.97L650.33 2296.5M348.1 1975.97L668.63 2296.5M366.4 1975.97L686.93 2296.5M384.7 1975.97L705.23 2296.5M403 1975.97L723.53 2296.5M421.3 1975.97L741.83 2296.5M439.6 1975.97L760.13 2296.5" stroke="#000" stroke-width="1.6" fill="none" clip-path="url(#c8)"/>
<clipPath id="c9"><rect x="456" y="1782.54" width="31.7" height="511.96"/></clipPath>
<rect x="456" y="1782.54" width="32.5" height="511.96" fill="#C1AFD6"/>
<path d="M454 1804.14L477.6 1780.54M454 1822.44L495.9 1780.54M454 1840.74L514.2 1780.54M454 1859.04L532.5 1780.54M454 1877.34L550.8 1780.54M454 1895.64L569.1 1780.54M454 1913.94L587.4 1780.54M454 1932.24L605.7 1780.54M454 1950.54L624 1780.54M454 1968.84L642.3 1780.54M454 1987.14L660.6 1780.54M454 2005.44L678.9 1780.54M454 2023.74L697.2 1780.54M454 2042.04L715.5 1780.54M454 2060.34L733.8 1780.54M454 2078.64L752.1 1780.54M454 2096.94L770.4 1780.54M454 2115.24L788.7 1780.54M454 2133.54L807 1780.54M454 2151.84L825.3 1780.54M454 2170.14L843.6 1780.54M454 2188.44L861.9 1780.54M454 2206.74L880.2 1780.54M454 2225.04L898.5 1780.54M454 2243.34L916.8 1780.54M454 2261.64L935.1 1780.54M454 2279.94L953.4 1780.54M454 2298.24L971.7 1780.54M454 2316.54L990 1780.54M-41.4 1780.54L474.56 2296.5M-23.1 1780.54L492.86 2296.5M-4.8 1780.54L511.16 2296.5M13.5 1780.54L529.46 2296.5M31.8 1780.54L547.76 2296.5M50.1 1780.54L566.06 2296.5M68.4 1780.54L584.36 2296.5M86.7 1780.54L602.66 2296.5M105 1780.54L620.96 2296.5M123.3 1780.54L639.26 2296.5M141.6 1780.54L657.56 2296.5M159.9 1780.54L675.86 2296.5M178.2 1780.54L694.16 2296.5M196.5 1780.54L712.46 2296.5M214.8 1780.54L730.76 2296.5M233.1 1780.54L749.06 2296.5M251.4 1780.54L767.36 2296.5M269.7 1780.54L785.66 2296.5M288 1780.54L803.96 2296.5M306.3 1780.54L822.26 2296.5M324.6 1780.54L840.56 2296.5M342.9 1780.54L858.86 2296.5M361.2 1780.54L877.16 2296.5M379.5 1780.54L895.46 2296.5M397.8 1780.54L913.76 2296.5M416.1 1780.54L932.06 2296.5M434.4 1780.54L950.36 2296.5M452.7 1780.54L968.66 2296.5M471 1780.54L986.96 2296.5" stroke="#000" stroke-width="1.6" fill="none" clip-path="url(#c9)"/>
<clipPath id="c10"><rect x="510.65" y="1972.54" width="30.5" height="321.96"/></clipPath>
<rect x="510.65" y="1972.54" width="31.3" height="321.96" fill="#FDCB9B"/>
<path d="M508.65 1994.14L532.25 1970.54M508.65 2012.44L550.55 1970.54M508.65 2030.74L568.85 1970.54M508.65 2049.04L587.15 1970.54M508.65 2067.34L605.45 1970.54M508.65 2085.64L623.75 1970.54M508.65 2103.94L642.05 1970.54M508.65 2122.24L660.35 1970.54M508.65 2140.54L678.65 1970.54M508.65 2158.84L696.95 1970.54M508.65 2177.14L715.25 1970.54M508.65 2195.44L733.55 1970.54M508.65 2213.74L751.85 1970.54M508.65 2232.04L770.15 1970.54M508.65 2250.34L788.45 1970.54M508.65 2268.64L806.75 1970.54M508.65 2286.94L825.05 1970.54M508.65 2305.24L843.35 1970.54M508.65 2323.54L861.65 1970.54" stroke="#000" stroke-width="1.6" fill="none" clip-path="url(#c10)"/>
<clipPath id="c11"><rect x="541.95" y="1944.91" width="30.6" height="349.59"/></clipPath>
<rect x="541.95" y="1944.91" width="31.4" height="349.59" fill="#9ED99E"/>
<path d="M209.25 1942.91L562.84 2296.5M227.55 1942.91L581.14 2296.5M245.85 1942.91L599.44 2296.5M264.15 1942.91L617.74 2296.5M282.45 1942.91L636.04 2296.5M300.75 1942.91L654.34 2296.5M319.05 1942.91L672.64 2296.5M337.35 1942.91L690.94 2296.5M355.65 1942.91L709.24 2296.5M373.95 1942.91L727.54 2296.5M392.25 1942.91L745.84 2296.5M410.55 1942.91L764.14 2296.5M428.85 1942.91L782.44 2296.5M447.15 1942.91L800.74 2296.5M465.45 1942.91L819.04 2296.5M483.75 1942.91L837.34 2296.5M502.05 1942.91L855.64 2296.5M520.35 1942.91L873.94 2296.5M538.65 1942.91L892.24 2296.5M556.95 1942.91L910.54 2296.5" stroke="#000" stroke-width="1.6" fill="none" clip-path="url(#c11)"/>
<clipPath id="c12"><rect x="573.35" y="1757.16" width="31.7" height="537.34"/></clipPath>
<rect x="573.35" y="1757.16" width="32.5" height="537.34" fill="#C1AFD6"/>
<path d="M571.35 1778.76L594.95 1755.16M571.35 1797.06L613.25 1755.16M571.35 1815.36L631.55 1755.16M571.35 1833.66L649.85 1755.16M571.35 1851.96L668.15 1755.16M571.35 1870.26L686.45 1755.16M571.35 1888.56L704.75 1755.16M571.35 1906.86L723.05 1755.16M571.35 1925.16L741.35 1755.16M571.35 1943.46L759.65 1755.16M571.35 1961.76L777.95 1755.16M571.35 1980.06L796.25 1755.16M571.35 1998.36L814.55 1755.16M571.35 2016.66L832.85 1755.16M571.35 2034.96L851.15 1755.16M571.35 2053.26L869.45 1755.16M571.35 2071.56L887.75 1755.16M571.35 2089.86L906.05 1755.16M571.35 2108.16L924.35 1755.16M571.35 2126.46L942.65 1755.16M571.35 2144.76L960.95 1755.16M571.35 2163.06L979.25 1755.16M571.35 2181.36L997.55 1755.16M571.35 2199.66L1015.85 1755.16M571.35 2217.96L1034.15 1755.16M571.35 2236.26L1052.45 1755.16M571.35 2254.56L1070.75 1755.16M571.35 2272.86L1089.05 1755.16M571.35 2291.16L1107.35 1755.16M571.35 2309.46L1125.65 1755.16M39.35 1755.16L580.69 2296.5M57.65 1755.16L598.99 2296.5M75.95 1755.16L617.29 2296.5M94.25 1755.16L635.59 2296.5M112.55 1755.16L653.89 2296.5M130.85 1755.16L672.19 2296.5M149.15 1755.16L690.49 2296.5M167.45 1755.16L708.79 2296.5M185.75 1755.16L727.09 2296.5M204.05 1755.16L745.39 2296.5M222.35 1755.16L763.69 2296.5M240.65 1755.16L781.99 2296.5M258.95 1755.16L800.29 2296.5M277.25 1755.16L818.59 2296.5M295.55 1755.16L836.89 2296.5M313.85 1755.16L855.19 2296.5M332.15 1755.16L873.49 2296.5M350.45 1755.16L891.79 2296.5M368.75 1755.16L910.09 2296.5M387.05 1755.16L928.39 2296.5M405.35 1755.16L946.69 2296.5M423.65 1755.16L964.99 2296.5M441.95 1755.16L983.29 2296.5M460.25 1755.16L1001.59 2296.5M478.55 1755.16L1019.89 2296.5M496.85 1755.16L1038.19 2296.5M515.15 1755.16L1056.49 2296.5M533.45 1755.16L1074.79 2296.5M551.75 1755.16L1093.09 2296.5M570.05 1755.16L1111.39 2296.5M588.35 1755.16L1129.69 2296.5" stroke="#000" stroke-width="1.6" fill="none" clip-path="url(#c12)"/>
<clipPath id="c13"><rect x="628" y="1959.19" width="30.5" height="335.31"/></clipPath>
<rect x="628" y="1959.19" width="31.3" height="335.31" fill="#FDCB9B"/>
<path d="M626 1980.79L649.6 1957.19M626 1999.09L667.9 1957.19M626 2017.39L686.2 1957.19M626 2035.69L704.5 1957.19M626 2053.99L722.8 1957.19M626 2072.29L741.1 1957.19M626 2090.59L759.4 1957.19M626 2108.89L777.7 1957.19M626 2127.19L796 1957.19M626 2145.49L814.3 1957.19M626 2163.79L832.6 1957.19M626 2182.09L850.9 1957.19M626 2200.39L869.2 1957.19M626 2218.69L887.5 1957.19M626 2236.99L905.8 1957.19M626 2255.29L924.1 1957.19M626 2273.59L942.4 1957.19M626 2291.89L960.7 1957.19M626 2310.19L979 1957.19" stroke="#000" stroke-width="1.6" fill="none" clip-path="url(#c13)"/>
<clipPath id="c14"><rect x="659.3" y="1890.57" width="30.6" height="403.93"/></clipPath>
<rect x="659.3" y="1890.57" width="31.4" height="403.93" fill="#9ED99E"/>
<path d="M271.7 1888.57L679.63 2296.5M290 1888.57L697.93 2296.5M308.3 1888.57L716.23 2296.5M326.6 1888.57L734.53 2296.5M344.9 1888.57L752.83 2296.5M363.2 1888.57L771.13 2296.5M381.5 1888.57L789.43 2296.5M399.8 1888.57L807.73 2296.5M418.1 1888.57L826.03 2296.5M436.4 1888.57L844.33 2296.5M454.7 1888.57L862.63 2296.5M473 1888.57L880.93 2296.5M491.3 1888.57L899.23 2296.5M509.6 1888.57L917.53 2296.5M527.9 1888.57L935.83 2296.5M546.2 1888.57L954.13 2296.5M564.5 1888.57L972.43 2296.5M582.8 1888.57L990.73 2296.5M601.1 1888.57L1009.03 2296.5M619.4 1888.57L1027.33 2296.5M637.7 1888.57L1045.63 2296.5M656 1888.57L1063.93 2296.5M674.3 1888.57L1082.23 2296.5" stroke="#000" stroke-width="1.6" fill="none" clip-path="url(#c14)"/>
<clipPath id="c15"><rect x="690.7" y="1745.26" width="31.7" height="549.24"/></clipPath>
<rect x="690.7" y="1745.26" width="32.5" height="549.24" fill="#C1AFD6"/>
<path d="M688.7 1766.86L712.3 1743.26M688.7 1785.16L730.6 1743.26M688.7 1803.46L748.9 1743.26M688.7 1821.76L767.2 1743.26M688.7 1840.06L785.5 1743.26M688.7 1858.36L803.8 1743.26M688.7 1876.66L822.1 1743.26M688.7 1894.96L840.4 1743.26M688.7 1913.26L858.7 1743.26M688.7 1931.56L877 1743.26M688.7 1949.86L895.3 1743.26M688.7 1968.16L913.6 1743.26M688.7 1986.46L931.9 1743.26M688.7 2004.76L950.2 1743.26M688.7 2023.06L968.5 1743.26M688.7 2041.36L986.8 1743.26M688.7 2059.66L1005.1 1743.26M688.7 2077.96L1023.4 1743.26M688.7 2096.26L1041.7 1743.26M688.7 2114.56L1060 1743.26M688.7 2132.86L1078.3 1743.26M688.7 2151.16L1096.6 1743.26M688.7 2169.46L1114.9 1743.26M688.7 2187.76L1133.2 1743.26M688.7 2206.06L1151.5 1743.26M688.7 2224.36L1169.8 1743.26M688.7 2242.66L1188.1 1743.26M688.7 2260.96L1206.4 1743.26M688.7 2279.26L1224.7 1743.26M688.7 2297.56L1243 1743.26M688.7 2315.86L1261.3 1743.26M156.7 1743.26L709.94 2296.5M175 1743.26L728.24 2296.5M193.3 1743.26L746.54 2296.5M211.6 1743.26L764.84 2296.5M229.9 1743.26L783.14 2296.5M248.2 1743.26L801.44 2296.5M266.5 1743.26L819.74 2296.5M284.8 1743.26L838.04 2296.5M303.1 1743.26L856.34 2296.5M321.4 1743.26L874.64 2296.5M339.7 1743.26L892.94 2296.5M358 1743.26L911.24 2296.5M376.3 1743.26L929.54 2296.5M394.6 1743.26L947.84 2296.5M412.9 1743.26L966.14 2296.5M431.2 1743.26L984.44 2296.5M449.5 1743.26L1002.74 2296.5M467.8 1743.26L1021.04 2296.5M486.1 1743.26L1039.34 2296.5M504.4 1743.26L1057.64 2296.5M522.7 1743.26L1075.94 2296.5M541 1743.26L1094.24 2296.5M559.3 1743.26L1112.54 2296.5M577.6 1743.26L1130.84 2296.5M595.9 1743.26L1149.14 2296.5M614.2 1743.26L1167.44 2296.5M632.5 1743.26L1185.74 2296.5M650.8 1743.26L1204.04 2296.5M669.1 1743.26L1222.34 2296.5M687.4 1743.26L1240.64 2296.5M705.7 1743.26L1258.94 2296.5" stroke="#000" stroke-width="1.6" fill="none" clip-path="url(#c15)"/>
<clipPath id="c16"><rect x="745.35" y="1954.17" width="30.5" height="340.33"/></clipPath>
<rect x="745.35" y="1954.17" width="31.3" height="340.33" fill="#FDCB9B"/>
<path d="M743.35 1975.77L766.95 1952.17M743.35 1994.07L785.25 1952.17M743.35 2012.37L803.55 1952.17M743.35 2030.67L821.85 1952.17M743.35 2048.97L840.15 1952.17M743.35 2067.27L858.45 1952.17M743.35 2085.57L876.75 1952.17M743.35 2103.87L895.05 1952.17M743.35 2122.17L913.35 1952.17M743.35 2140.47L931.65 1952.17M743.35 2158.77L949.95 1952.17M743.35 2177.07L968.25 1952.17M743.35 2195.37L986.55 1952.17M743.35 2213.67L1004.85 1952.17M743.35 2231.97L1023.15 1952.17M743.35 2250.27L1041.45 1952.17M743.35 2268.57L1059.75 1952.17M743.35 2286.87L1078.05 1952.17M743.35 2305.17L1096.35 1952.17M743.35 2323.47L1114.65 1952.17" stroke="#000" stroke-width="1.6" fill="none" clip-path="url(#c16)"/>
<clipPath id="c17"><rect x="776.65" y="1852.49" width="30.6" height="442.01"/></clipPath>
<rect x="776.65" y="1852.49" width="31.4" height="442.01" fill="#9ED99E"/>
<path d="M352.45 1850.49L798.46 2296.5M370.75 1850.49L816.76 2296.5M389.05 1850.49L835.06 2296.5M407.35 1850.49L853.36 2296.5M425.65 1850.49L871.66 2296.5M443.95 1850.49L889.96 2296.5M462.25 1850.49L908.26 2296.5M480.55 1850.49L926.56 2296.5M498.85 1850.49L944.86 2296.5M517.15 1850.49L963.16 2296.5M535.45 1850.49L981.46 2296.5M553.75 1850.49L999.76 2296.5M572.05 1850.49L1018.06 2296.5M590.35 1850.49L1036.36 2296.5M608.65 1850.49L1054.66 2296.5M626.95 1850.49L1072.96 2296.5M645.25 1850.49L1091.26 2296.5M663.55 1850.49L1109.56 2296.5M681.85 1850.49L1127.86 2296.5M700.15 1850.49L1146.16 2296.5M718.45 1850.49L1164.46 2296.5M736.75 1850.49L1182.76 2296.5M755.05 1850.49L1201.06 2296.5M773.35 1850.49L1219.36 2296.5M791.65 1850.49L1237.66 2296.5" stroke="#000" stroke-width="1.6" fill="none" clip-path="url(#c17)"/>
<clipPath id="c18"><rect x="808.05" y="1737.06" width="31.7" height="557.44"/></clipPath>
<rect x="808.05" y="1737.06" width="32.5" height="557.44" fill="#C1AFD6"/>
<path d="M806.05 1758.66L829.65 1735.06M806.05 1776.96L847.95 1735.06M806.05 1795.26L866.25 1735.06M806.05 1813.56L884.55 1735.06M806.05 1831.86L902.85 1735.06M806.05 1850.16L921.15 1735.06M806.05 1868.46L939.45 1735.06M806.05 1886.76L957.75 1735.06M806.05 1905.06L976.05 1735.06M806.05 1923.36L994.35 1735.06M806.05 1941.66L1012.65 1735.06M806.05 1959.96L1030.95 1735.06M806.05 1978.26L1049.25 1735.06M806.05 1996.56L1067.55 1735.06M806.05 2014.86L1085.85 1735.06M806.05 2033.16L1104.15 1735.06M806.05 2051.46L1122.45 1735.06M806.05 2069.76L1140.75 1735.06M806.05 2088.06L1159.05 1735.06M806.05 2106.36L1177.35 1735.06M806.05 2124.66L1195.65 1735.06M806.05 2142.96L1213.95 1735.06M806.05 2161.26L1232.25 1735.06M806.05 2179.56L1250.55 1735.06M806.05 2197.86L1268.85 1735.06M806.05 2216.16L1287.15 1735.06M806.05 2234.46L1305.45 1735.06M806.05 2252.76L1323.75 1735.06M806.05 2271.06L1342.05 1735.06M806.05 2289.36L1360.35 1735.06M806.05 2307.66L1378.65 1735.06M255.75 1735.06L817.19 2296.5M274.05 1735.06L835.49 2296.5M292.35 1735.06L853.79 2296.5M310.65 1735.06L872.09 2296.5M328.95 1735.06L890.39 2296.5M347.25 1735.06L908.69 2296.5M365.55 1735.06L926.99 2296.5M383.85 1735.06L945.29 2296.5M402.15 1735.06L963.59 2296.5M420.45 1735.06L981.89 2296.5M438.75 1735.06L1000.19 2296.5M457.05 1735.06L1018.49 2296.5M475.35 1735.06L1036.79 2296.5M493.65 1735.06L1055.09 2296.5M511.95 1735.06L1073.39 2296.5M530.25 1735.06L1091.69 2296.5M548.55 1735.06L1109.99 2296.5M566.85 1735.06L1128.29 2296.5M585.15 1735.06L1146.59 2296.5M603.45 1735.06L1164.89 2296.5M621.75 1735.06L1183.19 2296.5M640.05 1735.06L1201.49 2296.5M658.35 1735.06L1219.79 2296.5M676.65 1735.06L1238.09 2296.5M694.95 1735.06L1256.39 2296.5M713.25 1735.06L1274.69 2296.5M731.55 1735.06L1292.99 2296.5M749.85 1735.06L1311.29 2296.5M768.15 1735.06L1329.59 2296.5M786.45 1735.06L1347.89 2296.5M804.75 1735.06L1366.19 2296.5M823.05 1735.06L1384.49 2296.5" stroke="#000" stroke-width="1.6" fill="none" clip-path="url(#c18)"/>
<clipPath id="c19"><rect x="862.7" y="1951.39" width="30.5" height="343.11"/></clipPath>
<rect x="862.7" y="1951.39" width="31.3" height="343.11" fill="#FDCB9B"/>
<path d="M860.7 1972.99L884.3 1949.39M860.7 1991.29L902.6 1949.39M860.7 2009.59L920.9 1949.39M860.7 2027.89L939.2 1949.39M860.7 2046.19L957.5 1949.39M860.7 2064.49L975.8 1949.39M860.7 2082.79L994.1 1949.39M860.7 2101.09L1012.4 1949.39M860.7 2119.39L1030.7 1949.39M860.7 2137.69L1049 1949.39M860.7 2155.99L1067.3 1949.39M860.7 2174.29L1085.6 1949.39M860.7 2192.59L1103.9 1949.39M860.7 2210.89L1122.2 1949.39M860.7 2229.19L1140.5 1949.39M860.7 2247.49L1158.8 1949.39M860.7 2265.79L1177.1 1949.39M860.7 2284.09L1195.4 1949.39M860.7 2302.39L1213.7 1949.39M860.7 2320.69L1232 1949.39" stroke="#000" stroke-width="1.6" fill="none" clip-path="url(#c19)"/>
<clipPath id="c20"><rect x="894" y="1828.56" width="30.6" height="465.94"/></clipPath>
<rect x="894" y="1828.56" width="31.4" height="465.94" fill="#9ED99E"/>
<path d="M433.2 1826.56L903.14 2296.5M451.5 1826.56L921.44 2296.5M469.8 1826.56L939.74 2296.5M488.1 1826.56L958.04 2296.5M506.4 1826.56L976.34 2296.5M524.7 1826.56L994.64 2296.5M543 1826.56L1012.94 2296.5M561.3 1826.56L1031.24 2296.5M579.6 1826.56L1049.54 2296.5M597.9 1826.56L1067.84 2296.5M616.2 1826.56L1086.14 2296.5M634.5 1826.56L1104.44 2296.5M652.8 1826.56L1122.74 2296.5M671.1 1826.56L1141.04 2296.5M689.4 1826.56L1159.34 2296.5M707.7 1826.56L1177.64 2296.5M726 1826.56L1195.94 2296.5M744.3 1826.56L1214.24 2296.5M762.6 1826.56L1232.54 2296.5M780.9 1826.56L1250.84 2296.5M799.2 1826.56L1269.14 2296.5M817.5 1826.56L1287.44 2296.5M835.8 1826.56L1305.74 2296.5M854.1 1826.56L1324.04 2296.5M872.4 1826.56L1342.34 2296.5M890.7 1826.56L1360.64 2296.5M909 1826.56L1378.94 2296.5" stroke="#000" stroke-width="1.6" fill="none" clip-path="url(#c20)"/>
<clipPath id="c21"><rect x="925.4" y="1723.97" width="31.7" height="570.53"/></clipPath>
<rect x="925.4" y="1723.97" width="32.5" height="570.53" fill="#C1AFD6"/>
<path d="M923.4 1745.57L947 1721.97M923.4 1763.87L965.3 1721.97M923.4 1782.17L983.6 1721.97M923.4 1800.47L1001.9 1721.97M923.4 1818.77L1020.2 1721.97M923.4 1837.07L1038.5 1721.97M923.4 1855.37L1056.8 1721.97M923.4 1873.67L1075.1 1721.97M923.4 1891.97L1093.4 1721.97M923.4 1910.27L1111.7 1721.97M923.4 1928.57L1130 1721.97M923.4 1946.87L1148.3 1721.97M923.4 1965.17L1166.6 1721.97M923.4 1983.47L1184.9 1721.97M923.4 2001.77L1203.2 1721.97M923.4 2020.07L1221.5 1721.97M923.4 2038.37L1239.8 1721.97M923.4 2056.67L1258.1 1721.97M923.4 2074.97L1276.4 1721.97M923.4 2093.27L1294.7 1721.97M923.4 2111.57L1313 1721.97M923.4 2129.87L1331.3 1721.97M923.4 2148.17L1349.6 1721.97M923.4 2166.47L1367.9 1721.97M923.4 2184.77L1386.2 1721.97M923.4 2203.07L1404.5 1721.97M923.4 2221.37L1422.8 1721.97M923.4 2239.67L1441.1 1721.97M923.4 2257.97L1459.4 1721.97M923.4 2276.27L1477.7 1721.97M923.4 2294.57L1496 1721.97M923.4 2312.87L1514.3 1721.97M373.1 1721.97L947.63 2296.5M391.4 1721.97L965.93 2296.5M409.7 1721.97L984.23 2296.5M428 1721.97L1002.53 2296.5M446.3 1721.97L1020.83 2296.5M464.6 1721.97L1039.13 2296.5M482.9 1721.97L1057.43 2296.5M501.2 1721.97L1075.73 2296.5M519.5 1721.97L1094.03 2296.5M537.8 1721.97L1112.33 2296.5M556.1 1721.97L1130.63 2296.5M574.4 1721.97L1148.93 2296.5M592.7 1721.97L1167.23 2296.5M611 1721.97L1185.53 2296.5M629.3 1721.97L1203.83 2296.5M647.6 1721.97L1222.13 2296.5M665.9 1721.97L1240.43 2296.5M684.2 1721.97L1258.73 2296.5M702.5 1721.97L1277.03 2296.5M720.8 1721.97L1295.33 2296.5M739.1 1721.97L1313.63 2296.5M757.4 1721.97L1331.93 2296.5M775.7 1721.97L1350.23 2296.5M794 1721.97L1368.53 2296.5M812.3 1721.97L1386.83 2296.5M830.6 1721.97L1405.13 2296.5M848.9 1721.97L1423.43 2296.5M867.2 1721.97L1441.73 2296.5M885.5 1721.97L1460.03 2296.5M903.8 1721.97L1478.33 2296.5M922.1 1721.97L1496.63 2296.5M940.4 1721.97L1514.93 2296.5" stroke="#000" stroke-width="1.6" fill="none" clip-path="url(#c21)"/>
<path d="M174.25 2038.23V2043.25M167.15 2038.23H181.35M167.15 2043.25H181.35" stroke="#000" stroke-width="1.6" fill="none"/>
<path d="M205.6 2034.39V2047.09M198.5 2034.39H212.7M198.5 2047.09H212.7" stroke="#000" stroke-width="1.6" fill="none"/>
<path d="M237.55 1937.08V1949.51M230.45 1937.08H244.65M230.45 1949.51H244.65" stroke="#000" stroke-width="1.6" fill="none"/>
<path d="M291.6 1973.57V1991.82M284.5 1973.57H298.7M284.5 1991.82H298.7" stroke="#000" stroke-width="1.6" fill="none"/>
<path d="M322.95 1973.71V1991.69M315.85 1973.71H330.05M315.85 1991.69H330.05" stroke="#000" stroke-width="1.6" fill="none"/>
<path d="M354.9 1882.61V1900.06M347.8 1882.61H362M347.8 1900.06H362" stroke="#000" stroke-width="1.6" fill="none"/>
<path d="M408.95 1965.38V1991.56M401.85 1965.38H416.05M401.85 1991.56H416.05" stroke="#000" stroke-width="1.6" fill="none"/>
<path d="M440.3 1969.87V1987.06M433.2 1969.87H447.4M433.2 1987.06H447.4" stroke="#000" stroke-width="1.6" fill="none"/>
<path d="M472.25 1771.28V1794.81M465.15 1771.28H479.35M465.15 1794.81H479.35" stroke="#000" stroke-width="1.6" fill="none"/>
<path d="M526.3 1968.02V1978.07M519.2 1968.02H533.4M519.2 1978.07H533.4" stroke="#000" stroke-width="1.6" fill="none"/>
<path d="M557.65 1937.74V1953.08M550.55 1937.74H564.75M550.55 1953.08H564.75" stroke="#000" stroke-width="1.6" fill="none"/>
<path d="M589.6 1744.57V1770.75M582.5 1744.57H596.7M582.5 1770.75H596.7" stroke="#000" stroke-width="1.6" fill="none"/>
<path d="M643.65 1955.86V1963.52M636.55 1955.86H650.75M636.55 1963.52H650.75" stroke="#000" stroke-width="1.6" fill="none"/>
<path d="M675 1882.08V1900.06M667.9 1882.08H682.1M667.9 1900.06H682.1" stroke="#000" stroke-width="1.6" fill="none"/>
<path d="M706.95 1736.63V1754.88M699.85 1736.63H714.05M699.85 1754.88H714.05" stroke="#000" stroke-width="1.6" fill="none"/>
<path d="M761 1944.62V1964.71M753.9 1944.62H768.1M753.9 1964.71H768.1" stroke="#000" stroke-width="1.6" fill="none"/>
<path d="M792.35 1840.96V1865.02M785.25 1840.96H799.45M785.25 1865.02H799.45" stroke="#000" stroke-width="1.6" fill="none"/>
<path d="M824.3 1725.66V1749.46M817.2 1725.66H831.4M817.2 1749.46H831.4" stroke="#000" stroke-width="1.6" fill="none"/>
<path d="M878.35 1945.41V1958.37M871.25 1945.41H885.45M871.25 1958.37H885.45" stroke="#000" stroke-width="1.6" fill="none"/>
<path d="M909.7 1819.8V1838.31M902.6 1819.8H916.8M902.6 1838.31H916.8" stroke="#000" stroke-width="1.6" fill="none"/>
<path d="M941.65 1713.76V1735.18M934.55 1713.76H948.75M934.55 1735.18H948.75" stroke="#000" stroke-width="1.6" fill="none"/>
<path d="M271.2 2083.6Q285 2070.5 299.4 2083.4" stroke="#000" stroke-width="1.9" fill="none"/>
<path d="M254.3 2103.6Q268 2117 281.5 2105.4" stroke="#000" stroke-width="1.9" fill="none"/>
<path d="M274.3 2104.0L297 2114.4" stroke="#000" stroke-width="0.8" fill="none"/>
<ellipse cx="291" cy="2104.8" rx="4.5" ry="2.2" stroke="#000" stroke-width="2" fill="none"/>
<ellipse cx="279.4" cy="2113.6" rx="4.5" ry="2.2" stroke="#000" stroke-width="2" fill="none"/>
<rect x="146.9" y="1633.4" width="821.5" height="661.1" fill="none" stroke="#000" stroke-width="3.2"/>
<line x1="146.9" y1="2294.5" x2="159.5" y2="2294.5" stroke="#000" stroke-width="3.2" />
<text transform="translate(132.8 2303.1) scale(1 1.037)" font-size="27.6" font-weight="bold" text-anchor="end" >50</text>
<line x1="146.9" y1="2162.28" x2="159.5" y2="2162.28" stroke="#000" stroke-width="3.2" />
<text transform="translate(132.8 2170.88) scale(1 1.037)" font-size="27.6" font-weight="bold" text-anchor="end" >60</text>
<line x1="146.9" y1="2030.06" x2="159.5" y2="2030.06" stroke="#000" stroke-width="3.2" />
<text transform="translate(132.8 2038.66) scale(1 1.037)" font-size="27.6" font-weight="bold" text-anchor="end" >70</text>
<line x1="146.9" y1="1897.84" x2="159.5" y2="1897.84" stroke="#000" stroke-width="3.2" />
<text transform="translate(132.8 1906.44) scale(1 1.037)" font-size="27.6" font-weight="bold" text-anchor="end" >80</text>
<line x1="146.9" y1="1765.62" x2="159.5" y2="1765.62" stroke="#000" stroke-width="3.2" />
<text transform="translate(132.8 1774.22) scale(1 1.037)" font-size="27.6" font-weight="bold" text-anchor="end" >90</text>
<line x1="146.9" y1="1633.4" x2="159.5" y2="1633.4" stroke="#000" stroke-width="3.2" />
<text transform="translate(132.8 1642) scale(1 1.037)" font-size="27.6" font-weight="bold" text-anchor="end" >100</text>
<line x1="146.9" y1="2228.39" x2="153.2" y2="2228.39" stroke="#000" stroke-width="3.2" />
<line x1="146.9" y1="2096.17" x2="153.2" y2="2096.17" stroke="#000" stroke-width="3.2" />
<line x1="146.9" y1="1963.95" x2="153.2" y2="1963.95" stroke="#000" stroke-width="3.2" />
<line x1="146.9" y1="1831.73" x2="153.2" y2="1831.73" stroke="#000" stroke-width="3.2" />
<line x1="146.9" y1="1699.51" x2="153.2" y2="1699.51" stroke="#000" stroke-width="3.2" />
<line x1="205.6" y1="2294.5" x2="205.6" y2="2307.6" stroke="#000" stroke-width="3.2" />
<text transform="translate(205.6 2338) scale(1 1.037)" font-size="27.6" font-weight="bold" text-anchor="middle" >1</text>
<line x1="322.95" y1="2294.5" x2="322.95" y2="2307.6" stroke="#000" stroke-width="3.2" />
<text transform="translate(322.95 2338) scale(1 1.037)" font-size="27.6" font-weight="bold" text-anchor="middle" >2</text>
<line x1="440.3" y1="2294.5" x2="440.3" y2="2307.6" stroke="#000" stroke-width="3.2" />
<text transform="translate(440.3 2338) scale(1 1.037)" font-size="27.6" font-weight="bold" text-anchor="middle" >3</text>
<line x1="557.65" y1="2294.5" x2="557.65" y2="2307.6" stroke="#000" stroke-width="3.2" />
<text transform="translate(557.65 2338) scale(1 1.037)" font-size="27.6" font-weight="bold" text-anchor="middle" >4</text>
<line x1="675" y1="2294.5" x2="675" y2="2307.6" stroke="#000" stroke-width="3.2" />
<text transform="translate(675 2338) scale(1 1.037)" font-size="27.6" font-weight="bold" text-anchor="middle" >5</text>
<line x1="792.35" y1="2294.5" x2="792.35" y2="2307.6" stroke="#000" stroke-width="3.2" />
<text transform="translate(792.35 2338) scale(1 1.037)" font-size="27.6" font-weight="bold" text-anchor="middle" >6</text>
<line x1="909.7" y1="2294.5" x2="909.7" y2="2307.6" stroke="#000" stroke-width="3.2" />
<text transform="translate(909.7 2338) scale(1 1.037)" font-size="27.6" font-weight="bold" text-anchor="middle" >7</text>
<text transform="translate(475.4 2392.3) scale(1 1.015)" font-size="35" font-weight="normal" text-anchor="start" >Time</text>
<path d="M565.5 2366Q551.5 2380.3 565.5 2394.6" stroke="#000" stroke-width="1.8" fill="none"/>
<path d="M591.5 2366Q605.5 2380.3 591.5 2394.6" stroke="#000" stroke-width="1.8" fill="none"/>
<text transform="translate(569.3 2392.1) scale(1 1.037)" font-size="31" font-weight="normal" text-anchor="start" >d</text>
<text transform="translate(72 2117.6) rotate(-90) scale(1 1.06)" font-size="34.3" text-anchor="start">Leaching rate</text>
<text transform="translate(72 1852.3) rotate(-90) scale(1 1.0)" font-size="29.5" font-weight="bold" text-anchor="end">(%)</text>
<text transform="translate(30 1651.5) scale(1 1.0)" font-size="44.5" font-weight="bold" text-anchor="start" >(c)</text>
<clipPath id="c22"><rect x="179.1" y="1664.1" width="73.1" height="36.9"/></clipPath>
<rect x="179.1" y="1664.1" width="73.9" height="36.9" fill="#FDCB9B"/>
<path d="M177.1 1688.2L203.2 1662.1M177.1 1706.5L221.5 1662.1M177.1 1724.8L239.8 1662.1M177.1 1743.1L258.1 1662.1M177.1 1761.4L276.4 1662.1" stroke="#000" stroke-width="1.6" fill="none" clip-path="url(#c22)"/>
<text transform="translate(261.5 1693.5) scale(1 1.037)" font-size="31.5" font-weight="bold" text-anchor="start" >A</text>
<clipPath id="c23"><rect x="179.1" y="1704.55" width="73.1" height="36.9"/></clipPath>
<rect x="179.1" y="1704.55" width="73.9" height="36.9" fill="#9ED99E"/>
<path d="M160.3 1702.55L201.2 1743.45M178.6 1702.55L219.5 1743.45M196.9 1702.55L237.8 1743.45M215.2 1702.55L256.1 1743.45M233.5 1702.55L274.4 1743.45" stroke="#000" stroke-width="1.6" fill="none" clip-path="url(#c23)"/>
<text transform="translate(261.5 1733.95) scale(1 1.037)" font-size="31.5" font-weight="bold" text-anchor="start" >B</text>
<clipPath id="c24"><rect x="179.1" y="1745" width="73.1" height="36.9"/></clipPath>
<rect x="179.1" y="1745" width="73.9" height="36.9" fill="#C1AFD6"/>
<path d="M177.1 1769.1L203.2 1743M177.1 1787.4L221.5 1743M177.1 1805.7L239.8 1743M177.1 1824L258.1 1743M177.1 1842.3L276.4 1743M160.3 1743L201.2 1783.9M178.6 1743L219.5 1783.9M196.9 1743L237.8 1783.9M215.2 1743L256.1 1783.9M233.5 1743L274.4 1783.9" stroke="#000" stroke-width="1.6" fill="none" clip-path="url(#c24)"/>
<text transform="translate(261.5 1774.4) scale(1 1.037)" font-size="31.5" font-weight="bold" text-anchor="start" >C</text>
</svg>
</body></html>
